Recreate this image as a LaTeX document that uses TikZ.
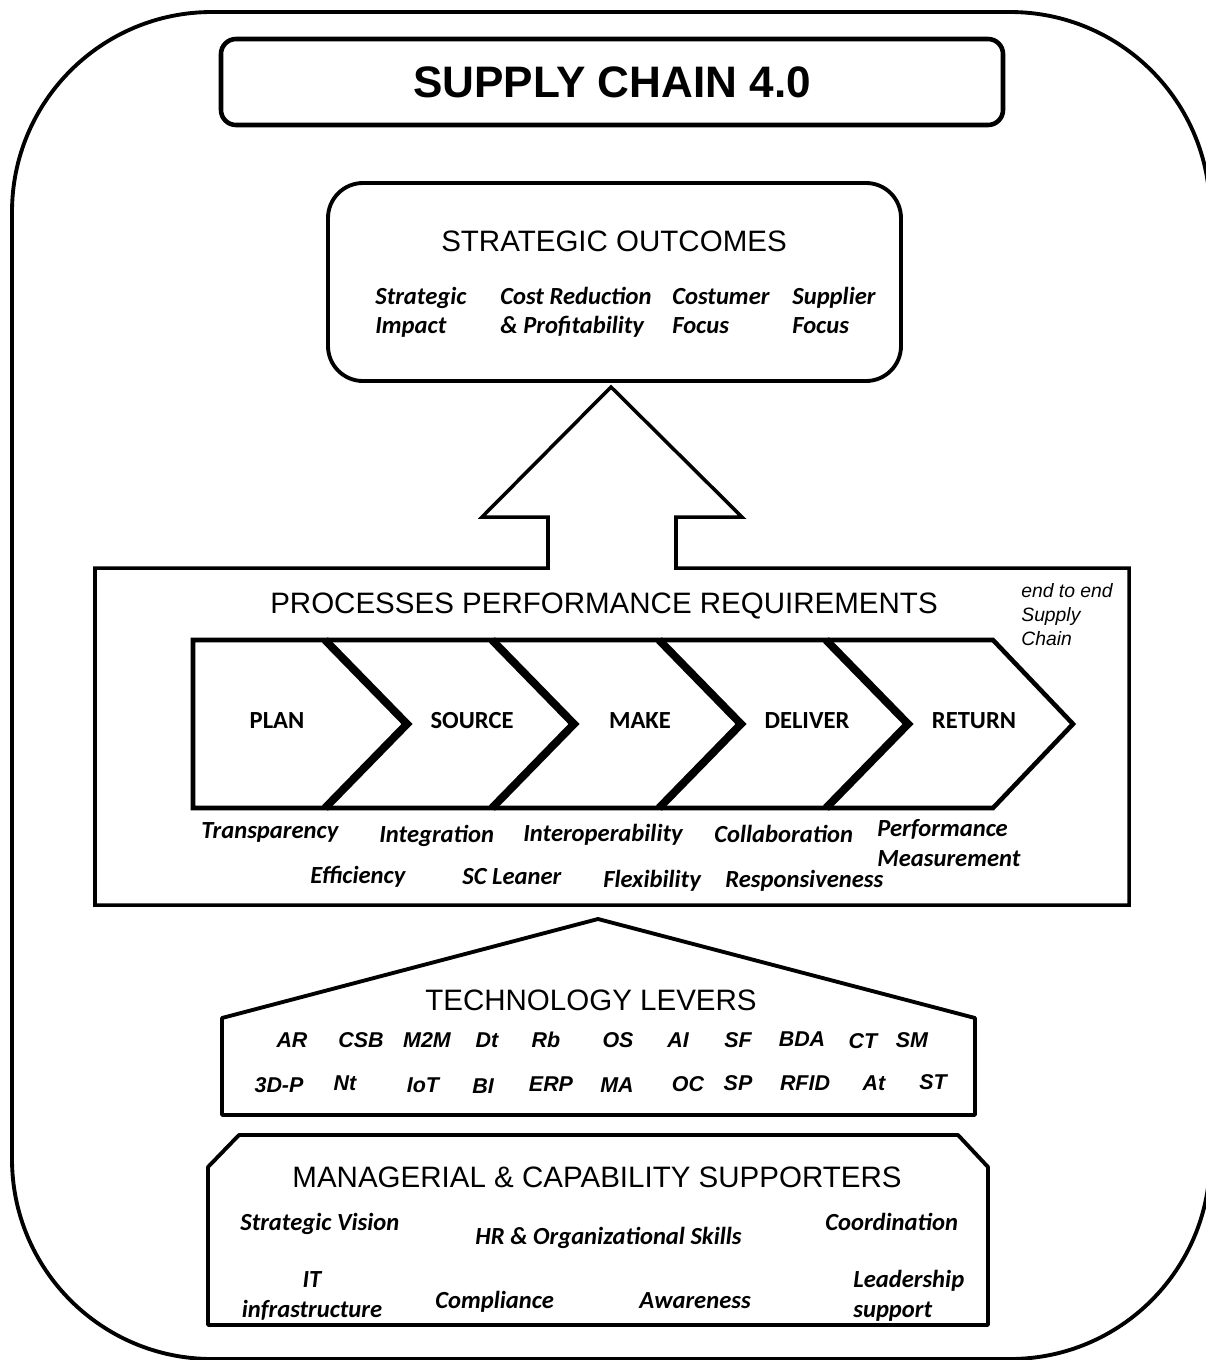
\documentclass[tikz,border=0pt]{standalone}
\usepackage{fontspec}
\setmainfont{Liberation Sans}
\newfontfamily\calfont{Carlito}

\begin{document}
\begin{tikzpicture}
    [
        x=0.02cm, y=-0.02cm,
        frame/.style={line width=2.2pt, line join=round},
        heading/.style={font=\fontsize{16.8}{20}\selectfont, inner sep=0pt, anchor=base},
        outcome/.style={font=\calfont\bfseries\itshape\fontsize{14}{16.5}\selectfont, align=left, inner sep=0pt, anchor=base west},
        stage/.style={font=\calfont\bfseries\fontsize{14}{16}\selectfont, inner sep=0pt},
        lever/.style={font=\bfseries\itshape\fontsize{12.2}{14}\selectfont, inner sep=0pt},
    ]
    \useasboundingbox (0,0) rectangle (1206,1360);
    \clip (0,0) rectangle (1206,1360);
    \draw [frame, rounded corners=4cm] (12,12) rectangle (1210,1359);

    % title
    \draw [frame, line width=2.6pt, rounded corners=0.3cm] (221,39) rectangle (1003,125);
    \node (title) at (612,97) [anchor=base, inner sep=0pt, font=\bfseries\fontsize{25.1}{28}\selectfont] {SUPPLY CHAIN 4.0};

    % strategic outcomes (multi-line nodes sit on their last baseline)
    \draw [frame, rounded corners=0.7cm] (328,183) rectangle (901,381);
    \node (outcomes) at (614,251) [heading] {STRATEGIC OUTCOMES};
    \node (impact) at (375,333) [outcome] {Strategic\\Impact};
    \node (cost) at (500,333) [outcome] {Cost Reduction\\\& Profitability};
    \node (costumer) at (672,333) [outcome] {Costumer\\Focus};
    \node (supplier) at (792,333) [outcome] {Supplier\\Focus};

    % arrow and processes box
    \draw [frame, line width=2pt, line join=miter] (548,517) -- (482,517) -- (611,387) -- (742,517) -- (676,517) -- (676,568)
        -- (1129,568) -- (1129,905) -- (95,905) -- (95,568) -- (548,568) -- cycle;
    \node (processes) at (604,613) [heading] {PROCESSES PERFORMANCE REQUIREMENTS};
    \node (endtoend) at (1021,645) [anchor=base west, inner sep=0pt, align=left, font=\itshape\fontsize{11}{13.4}\selectfont] {end to end\\Supply\\Chain};

    % chevrons
    \draw [line width=2.6pt, line join=miter] (193,640) -- (993,640) -- (1073,724) -- (993,808) -- (193,808) -- cycle;
    \draw [line width=4.5pt] (325,640) -- (407,724) -- (325,808);
    \draw [line width=4.5pt] (492,640) -- (574,724) -- (492,808);
    \draw [line width=4.5pt] (659,640) -- (741,724) -- (659,808);
    \draw [line width=4.5pt] (826,640) -- (908,724) -- (826,808);
    \node (plan) at (277,721) [stage] {PLAN};
    \node (source) at (472,721) [stage] {SOURCE};
    \node (make) at (640,721) [stage] {MAKE};
    \node (deliver) at (807,721) [stage] {DELIVER};
    \node (return) at (974,721) [stage] {RETURN};

    \node (transparency) at (201,838) [outcome] {Transparency};
    \node (integration) at (379,842) [outcome] {Integration};
    \node (interop) at (523,841) [outcome] {Interoperability};
    \node (collab) at (714,842) [outcome] {Collaboration};
    \node (perf) at (877,866) [outcome, font=\calfont\bfseries\itshape\fontsize{14}{17}\selectfont] {Performance\\Measurement};
    \node (efficiency) at (310,883) [outcome] {Efficiency};
    \node (leaner) at (462,884) [outcome] {SC Leaner};
    \node (flex) at (603,887) [outcome] {Flexibility};
    \node (resp) at (725,887) [outcome] {Responsiveness};

    % technology levers
    \draw [frame] (222,1115) -- (222,1018) -- (598,919) -- (975,1018) -- (975,1115) -- cycle;
    \node (levers) at (591,1010) [heading] {TECHNOLOGY LEVERS};
    \node (ar) at (292,1040) [lever] {AR};
    \node (csb) at (361,1040) [lever] {CSB};
    \node (mtm) at (427,1040) [lever] {M2M};
    \node (dt) at (487,1040) [lever] {Dt};
    \node (rb) at (546,1040) [lever] {Rb};
    \node (os) at (618,1040) [lever] {OS};
    \node (ai) at (678,1040) [lever] {AI};
    \node (sf) at (738,1040) [lever] {SF};
    \node (bda) at (802,1039) [lever] {BDA};
    \node (ct) at (863,1041) [lever] {CT};
    \node (sm) at (912,1040) [lever] {SM};
    \node (tdp) at (279,1085) [lever] {3D-P};
    \node (nt) at (345,1083) [lever] {Nt};
    \node (iot) at (423,1085) [lever] {IoT};
    \node (bi) at (483,1086) [lever] {BI};
    \node (erp) at (551,1084) [lever] {ERP};
    \node (ma) at (617,1085) [lever] {MA};
    \node (oc) at (688,1084) [lever] {OC};
    \node (sp) at (738,1083) [lever] {SP};
    \node (rfid) at (805,1083) [lever] {RFID};
    \node (at) at (874,1083) [lever] {At};
    \node (st) at (933,1082) [lever] {ST};

    % managerial supporters
    \draw [frame] (239,1135) -- (958,1135) -- (988,1167) -- (988,1325) -- (208,1325) -- (208,1167) -- cycle;
    \node (managerial) at (597,1187) [heading] {MANAGERIAL \& CAPABILITY SUPPORTERS};
    \node (vision) at (240,1230) [outcome] {Strategic Vision};
    \node (hr) at (475,1244) [outcome] {HR \& Organizational Skills};
    \node (coord) at (825,1230) [outcome] {Coordination};
    \node (infra) at (312,1317) [outcome, anchor=base, align=center, font=\calfont\bfseries\itshape\fontsize{14}{17}\selectfont] {IT\\infrastructure};
    \node (compliance) at (435,1308) [outcome] {Compliance};
    \node (awareness) at (639,1308) [outcome] {Awareness};
    \node (leader) at (853,1317) [outcome, font=\calfont\bfseries\itshape\fontsize{14}{17}\selectfont] {Leadership\\support};
\end{tikzpicture}
\end{document}
